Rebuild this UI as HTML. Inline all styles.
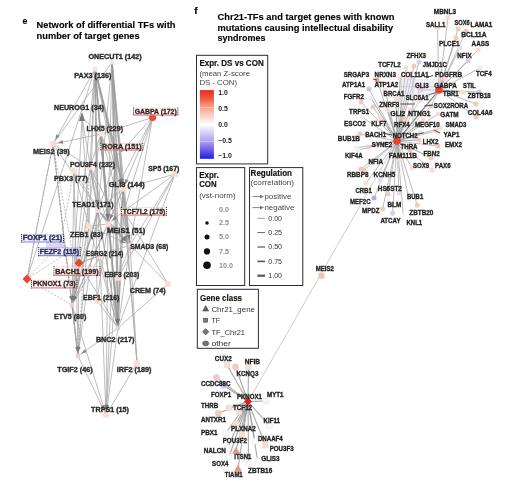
<!DOCTYPE html>
<html><head><meta charset="utf-8"><style>
html,body{margin:0;padding:0;background:#fff;width:522px;height:498px;overflow:hidden}
svg{display:block;font-family:"Liberation Sans",sans-serif;filter:blur(0.5px)}
</style></head><body>
<svg width="522" height="498" viewBox="0 0 522 498">
<rect width="522" height="498" fill="#fff"/>
<line x1="112" y1="62" x2="123" y2="189" stroke="#a8a8a8" stroke-width="0.9" opacity="0.85"/>
<line x1="112" y1="62" x2="124" y2="211" stroke="#a8a8a8" stroke-width="0.9" opacity="0.85"/>
<line x1="112" y1="62" x2="130" y2="245" stroke="#a8a8a8" stroke-width="0.9" opacity="0.85"/>
<line x1="112" y1="62" x2="118" y2="328" stroke="#a8a8a8" stroke-width="0.9" opacity="0.85"/>
<line x1="112" y1="62" x2="108" y2="224" stroke="#a8a8a8" stroke-width="0.9" opacity="0.85"/>
<line x1="112" y1="62" x2="53" y2="144" stroke="#a8a8a8" stroke-width="0.9" opacity="0.85"/>
<line x1="112" y1="62" x2="98" y2="210" stroke="#a8a8a8" stroke-width="0.9" opacity="0.85"/>
<line x1="112" y1="62" x2="118" y2="278" stroke="#a8a8a8" stroke-width="0.9" opacity="0.85"/>
<line x1="95" y1="69" x2="53" y2="144" stroke="#a8a8a8" stroke-width="0.9" opacity="0.85"/>
<line x1="95" y1="69" x2="98" y2="210" stroke="#a8a8a8" stroke-width="0.9" opacity="0.85"/>
<line x1="95" y1="69" x2="123" y2="189" stroke="#a8a8a8" stroke-width="0.9" opacity="0.85"/>
<line x1="95" y1="69" x2="108" y2="224" stroke="#a8a8a8" stroke-width="0.9" opacity="0.85"/>
<line x1="95" y1="69" x2="130" y2="245" stroke="#a8a8a8" stroke-width="0.9" opacity="0.85"/>
<line x1="95" y1="69" x2="118" y2="328" stroke="#a8a8a8" stroke-width="0.9" opacity="0.85"/>
<line x1="95" y1="69" x2="72" y2="305" stroke="#a8a8a8" stroke-width="0.9" opacity="0.85"/>
<line x1="95" y1="69" x2="89" y2="226" stroke="#a8a8a8" stroke-width="0.9" opacity="0.85"/>
<line x1="95" y1="69" x2="90" y2="167" stroke="#a8a8a8" stroke-width="0.9" opacity="0.85"/>
<line x1="95" y1="69" x2="97" y2="301" stroke="#a8a8a8" stroke-width="0.9" opacity="0.85"/>
<line x1="95" y1="69" x2="27" y2="279" stroke="#a8a8a8" stroke-width="0.9" opacity="0.85"/>
<line x1="95" y1="69" x2="117" y2="156" stroke="#a8a8a8" stroke-width="0.9" opacity="0.85"/>
<line x1="82" y1="118" x2="72" y2="305" stroke="#a8a8a8" stroke-width="0.9" opacity="0.85"/>
<line x1="82" y1="118" x2="98" y2="210" stroke="#a8a8a8" stroke-width="0.9" opacity="0.85"/>
<line x1="82" y1="118" x2="101" y2="134" stroke="#a8a8a8" stroke-width="0.9" opacity="0.85"/>
<line x1="82" y1="118" x2="89" y2="226" stroke="#a8a8a8" stroke-width="0.9" opacity="0.85"/>
<line x1="101" y1="134" x2="53" y2="144" stroke="#a8a8a8" stroke-width="0.9" opacity="0.85"/>
<line x1="101" y1="134" x2="123" y2="189" stroke="#a8a8a8" stroke-width="0.9" opacity="0.85"/>
<line x1="101" y1="134" x2="130" y2="245" stroke="#a8a8a8" stroke-width="0.9" opacity="0.85"/>
<line x1="101" y1="134" x2="118" y2="328" stroke="#a8a8a8" stroke-width="0.9" opacity="0.85"/>
<line x1="101" y1="134" x2="90" y2="167" stroke="#a8a8a8" stroke-width="0.9" opacity="0.85"/>
<line x1="101" y1="134" x2="108" y2="224" stroke="#a8a8a8" stroke-width="0.9" opacity="0.85"/>
<line x1="101" y1="134" x2="72" y2="305" stroke="#a8a8a8" stroke-width="0.9" opacity="0.85"/>
<line x1="152.6" y1="117.5" x2="117" y2="156" stroke="#a8a8a8" stroke-width="0.9" opacity="0.85"/>
<line x1="152.6" y1="117.5" x2="123" y2="189" stroke="#a8a8a8" stroke-width="0.9" opacity="0.85"/>
<line x1="152.6" y1="117.5" x2="124" y2="211" stroke="#a8a8a8" stroke-width="0.9" opacity="0.85"/>
<line x1="152.6" y1="117.5" x2="130" y2="245" stroke="#a8a8a8" stroke-width="0.9" opacity="0.85"/>
<line x1="152.6" y1="117.5" x2="79" y2="263" stroke="#a8a8a8" stroke-width="0.9" opacity="0.85"/>
<line x1="152.6" y1="117.5" x2="101" y2="134" stroke="#a8a8a8" stroke-width="0.9" opacity="0.85"/>
<line x1="117" y1="156" x2="123" y2="189" stroke="#a8a8a8" stroke-width="0.9" opacity="0.85"/>
<line x1="117" y1="156" x2="106" y2="415" stroke="#a8a8a8" stroke-width="0.9" opacity="0.85"/>
<line x1="112" y1="62" x2="117" y2="156" stroke="#a8a8a8" stroke-width="0.9" opacity="0.85"/>
<line x1="117" y1="156" x2="108" y2="224" stroke="#a8a8a8" stroke-width="0.9" opacity="0.85"/>
<line x1="117" y1="156" x2="118" y2="328" stroke="#a8a8a8" stroke-width="0.9" opacity="0.85"/>
<line x1="117" y1="156" x2="130" y2="245" stroke="#a8a8a8" stroke-width="0.9" opacity="0.85"/>
<line x1="117" y1="156" x2="98" y2="210" stroke="#a8a8a8" stroke-width="0.9" opacity="0.85"/>
<line x1="53" y1="144" x2="27" y2="279" stroke="#a8a8a8" stroke-width="0.9" opacity="0.85"/>
<line x1="53" y1="144" x2="72" y2="305" stroke="#a8a8a8" stroke-width="0.9" opacity="0.85"/>
<line x1="53" y1="144" x2="98" y2="210" stroke="#a8a8a8" stroke-width="0.9" opacity="0.85"/>
<line x1="53" y1="144" x2="90" y2="167" stroke="#a8a8a8" stroke-width="0.9" opacity="0.85"/>
<line x1="90" y1="167" x2="118" y2="328" stroke="#a8a8a8" stroke-width="0.9" opacity="0.85"/>
<line x1="90" y1="167" x2="130" y2="245" stroke="#a8a8a8" stroke-width="0.9" opacity="0.85"/>
<line x1="90" y1="167" x2="108" y2="224" stroke="#a8a8a8" stroke-width="0.9" opacity="0.85"/>
<line x1="90" y1="167" x2="98" y2="210" stroke="#a8a8a8" stroke-width="0.9" opacity="0.85"/>
<line x1="90" y1="167" x2="72" y2="305" stroke="#a8a8a8" stroke-width="0.9" opacity="0.85"/>
<line x1="74" y1="171" x2="72" y2="305" stroke="#a8a8a8" stroke-width="0.9" opacity="0.85"/>
<line x1="74" y1="171" x2="78" y2="356" stroke="#a8a8a8" stroke-width="0.9" opacity="0.85"/>
<line x1="74" y1="171" x2="108" y2="224" stroke="#a8a8a8" stroke-width="0.9" opacity="0.85"/>
<line x1="74" y1="171" x2="89" y2="226" stroke="#a8a8a8" stroke-width="0.9" opacity="0.85"/>
<line x1="175" y1="174" x2="123" y2="189" stroke="#a8a8a8" stroke-width="0.9" opacity="0.85"/>
<line x1="175" y1="174" x2="124" y2="211" stroke="#a8a8a8" stroke-width="0.9" opacity="0.85"/>
<line x1="175" y1="174" x2="130" y2="245" stroke="#a8a8a8" stroke-width="0.9" opacity="0.85"/>
<line x1="175" y1="174" x2="118" y2="278" stroke="#a8a8a8" stroke-width="0.9" opacity="0.85"/>
<line x1="175" y1="174" x2="118" y2="328" stroke="#a8a8a8" stroke-width="0.9" opacity="0.85"/>
<line x1="123" y1="189" x2="106" y2="415" stroke="#a8a8a8" stroke-width="0.9" opacity="0.85"/>
<line x1="123" y1="189" x2="130" y2="245" stroke="#a8a8a8" stroke-width="0.9" opacity="0.85"/>
<line x1="123" y1="189" x2="118" y2="328" stroke="#a8a8a8" stroke-width="0.9" opacity="0.85"/>
<line x1="123" y1="189" x2="72" y2="305" stroke="#a8a8a8" stroke-width="0.9" opacity="0.85"/>
<line x1="123" y1="189" x2="108" y2="224" stroke="#a8a8a8" stroke-width="0.9" opacity="0.85"/>
<line x1="123" y1="189" x2="98" y2="210" stroke="#a8a8a8" stroke-width="0.9" opacity="0.85"/>
<line x1="123" y1="189" x2="137" y2="363" stroke="#a8a8a8" stroke-width="0.9" opacity="0.85"/>
<line x1="98" y1="210" x2="106" y2="415" stroke="#a8a8a8" stroke-width="0.9" opacity="0.85"/>
<line x1="98" y1="210" x2="118" y2="328" stroke="#a8a8a8" stroke-width="0.9" opacity="0.85"/>
<line x1="98" y1="210" x2="130" y2="245" stroke="#a8a8a8" stroke-width="0.9" opacity="0.85"/>
<line x1="98" y1="210" x2="72" y2="305" stroke="#a8a8a8" stroke-width="0.9" opacity="0.85"/>
<line x1="98" y1="210" x2="78" y2="356" stroke="#a8a8a8" stroke-width="0.9" opacity="0.85"/>
<line x1="98" y1="210" x2="108" y2="224" stroke="#a8a8a8" stroke-width="0.9" opacity="0.85"/>
<line x1="124" y1="211" x2="118" y2="328" stroke="#a8a8a8" stroke-width="0.9" opacity="0.85"/>
<line x1="124" y1="211" x2="137" y2="363" stroke="#a8a8a8" stroke-width="0.9" opacity="0.85"/>
<line x1="124" y1="211" x2="130" y2="245" stroke="#a8a8a8" stroke-width="0.9" opacity="0.85"/>
<line x1="124" y1="211" x2="108" y2="224" stroke="#a8a8a8" stroke-width="0.9" opacity="0.85"/>
<line x1="124" y1="211" x2="168" y2="284" stroke="#a8a8a8" stroke-width="0.9" opacity="0.85"/>
<line x1="89" y1="226" x2="78" y2="356" stroke="#a8a8a8" stroke-width="0.9" opacity="0.85"/>
<line x1="89" y1="226" x2="130" y2="245" stroke="#a8a8a8" stroke-width="0.9" opacity="0.85"/>
<line x1="89" y1="226" x2="72" y2="305" stroke="#a8a8a8" stroke-width="0.9" opacity="0.85"/>
<line x1="89" y1="226" x2="118" y2="328" stroke="#a8a8a8" stroke-width="0.9" opacity="0.85"/>
<line x1="89" y1="226" x2="108" y2="224" stroke="#a8a8a8" stroke-width="0.9" opacity="0.85"/>
<line x1="108" y1="224" x2="130" y2="245" stroke="#a8a8a8" stroke-width="0.9" opacity="0.85"/>
<line x1="108" y1="224" x2="118" y2="328" stroke="#a8a8a8" stroke-width="0.9" opacity="0.85"/>
<line x1="108" y1="224" x2="106" y2="415" stroke="#a8a8a8" stroke-width="0.9" opacity="0.85"/>
<line x1="108" y1="224" x2="97" y2="301" stroke="#a8a8a8" stroke-width="0.9" opacity="0.85"/>
<line x1="108" y1="224" x2="72" y2="305" stroke="#a8a8a8" stroke-width="0.9" opacity="0.85"/>
<line x1="130" y1="245" x2="168" y2="284" stroke="#a8a8a8" stroke-width="0.9" opacity="0.85"/>
<line x1="130" y1="245" x2="137" y2="363" stroke="#a8a8a8" stroke-width="0.9" opacity="0.85"/>
<line x1="130" y1="245" x2="118" y2="328" stroke="#a8a8a8" stroke-width="0.9" opacity="0.85"/>
<line x1="130" y1="245" x2="118" y2="278" stroke="#a8a8a8" stroke-width="0.9" opacity="0.85"/>
<line x1="79" y1="263" x2="72" y2="305" stroke="#a8a8a8" stroke-width="0.9" opacity="0.85"/>
<line x1="79" y1="263" x2="118" y2="328" stroke="#a8a8a8" stroke-width="0.9" opacity="0.85"/>
<line x1="79" y1="263" x2="130" y2="245" stroke="#a8a8a8" stroke-width="0.9" opacity="0.85"/>
<line x1="79" y1="263" x2="78" y2="356" stroke="#a8a8a8" stroke-width="0.9" opacity="0.85"/>
<line x1="79" y1="263" x2="100" y2="256" stroke="#a8a8a8" stroke-width="0.9" opacity="0.85"/>
<line x1="97" y1="301" x2="118" y2="328" stroke="#a8a8a8" stroke-width="0.9" opacity="0.85"/>
<line x1="168" y1="284" x2="118" y2="328" stroke="#a8a8a8" stroke-width="0.9" opacity="0.85"/>
<line x1="72" y1="305" x2="78" y2="356" stroke="#a8a8a8" stroke-width="0.9" opacity="0.85"/>
<line x1="72" y1="305" x2="106" y2="415" stroke="#a8a8a8" stroke-width="0.9" opacity="0.85"/>
<line x1="118" y1="328" x2="78" y2="356" stroke="#a8a8a8" stroke-width="0.9" opacity="0.85"/>
<line x1="118" y1="328" x2="106" y2="415" stroke="#a8a8a8" stroke-width="0.9" opacity="0.85"/>
<line x1="137" y1="363" x2="106" y2="415" stroke="#a8a8a8" stroke-width="0.9" opacity="0.85"/>
<line x1="78" y1="356" x2="106" y2="415" stroke="#a8a8a8" stroke-width="0.9" opacity="0.85"/>
<line x1="118" y1="278" x2="118" y2="328" stroke="#a8a8a8" stroke-width="0.9" opacity="0.85"/>
<line x1="100" y1="256" x2="118" y2="328" stroke="#a8a8a8" stroke-width="0.9" opacity="0.85"/>
<line x1="100" y1="256" x2="72" y2="305" stroke="#a8a8a8" stroke-width="0.9" opacity="0.85"/>
<line x1="60" y1="244" x2="79" y2="263" stroke="#a8a8a8" stroke-width="0.9" opacity="0.85"/>
<line x1="72" y1="250" x2="79" y2="263" stroke="#a8a8a8" stroke-width="0.9" opacity="0.85"/>
<line x1="60" y1="244" x2="72" y2="250" stroke="#a8a8a8" stroke-width="0.9" opacity="0.85"/>
<line x1="27" y1="279" x2="60" y2="244" stroke="#999" stroke-width="0.8" opacity="0.8" stroke-dasharray="2,1.5"/>
<line x1="27" y1="279" x2="72" y2="250" stroke="#999" stroke-width="0.8" opacity="0.8" stroke-dasharray="2,1.5"/>
<line x1="27" y1="279" x2="72" y2="305" stroke="#999" stroke-width="0.8" opacity="0.8" stroke-dasharray="2,1.5"/>
<line x1="53" y1="144" x2="78" y2="356" stroke="#999" stroke-width="0.8" opacity="0.8" stroke-dasharray="2,1.5"/>
<line x1="53" y1="144" x2="72" y2="250" stroke="#999" stroke-width="0.8" opacity="0.8" stroke-dasharray="2,1.5"/>
<line x1="27" y1="279" x2="53" y2="144" stroke="#999" stroke-width="0.8" opacity="0.8" stroke-dasharray="2,1.5"/>
<line x1="74" y1="171" x2="60" y2="244" stroke="#999" stroke-width="0.8" opacity="0.8" stroke-dasharray="2,1.5"/>
<line x1="53" y1="144" x2="72" y2="305" stroke="#999" stroke-width="0.8" opacity="0.8" stroke-dasharray="2,1.5"/>
<line x1="90" y1="167" x2="78" y2="356" stroke="#999" stroke-width="0.8" opacity="0.8" stroke-dasharray="2,1.5"/>
<line x1="112" y1="62" x2="123" y2="189" stroke="#999" stroke-width="1.6" opacity="0.6"/>
<line x1="95" y1="69" x2="123" y2="189" stroke="#999" stroke-width="1.6" opacity="0.6"/>
<line x1="95" y1="69" x2="117" y2="156" stroke="#999" stroke-width="1.6" opacity="0.6"/>
<line x1="112" y1="62" x2="117" y2="156" stroke="#999" stroke-width="1.6" opacity="0.6"/>
<line x1="95" y1="69" x2="98" y2="210" stroke="#999" stroke-width="1.6" opacity="0.6"/>
<line x1="117" y1="156" x2="123" y2="189" stroke="#999" stroke-width="1.6" opacity="0.6"/>
<line x1="123" y1="189" x2="130" y2="245" stroke="#999" stroke-width="1.6" opacity="0.6"/>
<line x1="95" y1="69" x2="118" y2="328" stroke="#999" stroke-width="1.6" opacity="0.6"/>
<line x1="72" y1="305" x2="78" y2="356" stroke="#999" stroke-width="1.6" opacity="0.6"/>
<line x1="98" y1="210" x2="130" y2="245" stroke="#999" stroke-width="1.6" opacity="0.6"/>
<line x1="112" y1="62" x2="118" y2="328" stroke="#999" stroke-width="1.6" opacity="0.6"/>
<line x1="108" y1="224" x2="130" y2="245" stroke="#999" stroke-width="1.6" opacity="0.6"/>
<line x1="123" y1="189" x2="118" y2="328" stroke="#999" stroke-width="1.6" opacity="0.6"/>
<line x1="95" y1="69" x2="108" y2="224" stroke="#999" stroke-width="1.6" opacity="0.6"/>
<line x1="101" y1="134" x2="118" y2="328" stroke="#999" stroke-width="1.6" opacity="0.6"/>
<line x1="98" y1="210" x2="72" y2="305" stroke="#999" stroke-width="1.6" opacity="0.6"/>
<line x1="117" y1="156" x2="108" y2="224" stroke="#999" stroke-width="1.6" opacity="0.6"/>
<line x1="101" y1="134" x2="108" y2="224" stroke="#999" stroke-width="1.6" opacity="0.6"/>
<polygon points="122.6,184.0 124.0,178.8 120.2,179.1" fill="#777" opacity="0.85"/>
<polygon points="121.9,184.1 122.6,178.7 118.8,179.6" fill="#777" opacity="0.85"/>
<polygon points="122.1,184.1 123.1,178.7 119.3,179.4" fill="#777" opacity="0.85"/>
<polygon points="124.9,184.4 128.6,180.4 125.1,178.9" fill="#777" opacity="0.85"/>
<polygon points="121.1,184.4 121.0,178.9 117.5,180.3" fill="#777" opacity="0.85"/>
<polygon points="129.4,240.0 130.6,234.7 126.8,235.2" fill="#777" opacity="0.85"/>
<polygon points="126.4,241.5 124.0,236.6 121.4,239.4" fill="#777" opacity="0.85"/>
<polygon points="126.6,241.3 124.6,236.2 121.8,238.8" fill="#777" opacity="0.85"/>
<polygon points="125.5,242.9 121.6,239.0 120.0,242.5" fill="#777" opacity="0.85"/>
<polygon points="127.7,240.6 127.1,235.1 123.7,236.9" fill="#777" opacity="0.85"/>
<polygon points="107.6,219.0 109.1,213.8 105.2,214.1" fill="#777" opacity="0.85"/>
<polygon points="108.1,219.0 110.2,213.9 106.3,213.8" fill="#777" opacity="0.85"/>
<polygon points="110.0,219.4 113.8,215.5 110.2,213.9" fill="#777" opacity="0.85"/>
<polygon points="111.9,220.8 117.1,219.1 114.6,216.1" fill="#777" opacity="0.85"/>
<polygon points="72.4,301.0 74.8,296.1 71.0,295.7" fill="#777" opacity="0.85"/>
<polygon points="71.5,301.0 72.8,295.7 69.0,296.2" fill="#777" opacity="0.85"/>
<polygon points="73.1,301.1 76.3,296.7 72.6,295.7" fill="#777" opacity="0.85"/>
<polygon points="73.6,301.3 77.4,297.4 73.9,295.9" fill="#777" opacity="0.85"/>
<polygon points="72.8,301.1 75.8,296.5 72.0,295.7" fill="#777" opacity="0.85"/>
<polygon points="117.6,324.0 119.1,318.7 115.3,319.1" fill="#777" opacity="0.85"/>
<polygon points="117.9,324.0 119.7,318.8 115.9,318.9" fill="#777" opacity="0.85"/>
<polygon points="118.1,324.0 120.2,319.0 116.4,318.8" fill="#777" opacity="0.85"/>
<polygon points="117.3,324.1 118.4,318.7 114.6,319.3" fill="#777" opacity="0.85"/>
<polygon points="118.0,324.0 119.9,318.9 116.0,318.9" fill="#777" opacity="0.85"/>
<polygon points="77.5,352.0 78.8,346.7 75.0,347.2" fill="#777" opacity="0.85"/>
<polygon points="77.9,352.0 79.7,346.8 75.9,346.9" fill="#777" opacity="0.85"/>
<polygon points="78.3,352.0 80.7,347.1 76.9,346.8" fill="#777" opacity="0.85"/>
<polygon points="81.3,353.7 86.6,352.3 84.4,349.2" fill="#777" opacity="0.85"/>
<polygon points="104.5,410.2 104.8,404.8 101.2,405.9" fill="#777" opacity="0.85"/>
<polygon points="106.4,410.0 108.7,405.1 104.8,404.8" fill="#777" opacity="0.85"/>
<polygon points="106.7,410.0 109.3,405.2 105.5,404.7" fill="#777" opacity="0.85"/>
<polygon points="106.2,410.0 108.3,405.0 104.5,404.8" fill="#777" opacity="0.85"/>
<polygon points="57.9,143.0 63.3,143.8 62.5,140.1" fill="#777" opacity="0.85"/>
<polygon points="55.4,139.6 59.6,136.1 56.3,134.2" fill="#777" opacity="0.85"/>
<polygon points="120.4,152.3 125.3,149.9 122.5,147.3" fill="#777" opacity="0.85"/>
<polygon points="115.8,151.2 116.4,145.7 112.7,146.7" fill="#777" opacity="0.85"/>
<polygon points="97.9,205.0 99.7,199.8 95.9,199.9" fill="#777" opacity="0.85"/>
<polygon points="97.1,205.1 98.2,199.7 94.4,200.4" fill="#777" opacity="0.85"/>
<polygon points="82,112 85,121 79,121" fill="#777"/>
<rect x="50.25" y="141.25" width="5.5" height="5.5" fill="#f8ddd5" stroke="none" stroke-width="0.5"/>
<rect x="87.25" y="164.25" width="5.5" height="5.5" fill="#f8ddd5" stroke="none" stroke-width="0.5"/>
<rect x="71.25" y="168.25" width="5.5" height="5.5" fill="#f8ddd5" stroke="none" stroke-width="0.5"/>
<rect x="120.25" y="186.25" width="5.5" height="5.5" fill="#f8ddd5" stroke="none" stroke-width="0.5"/>
<rect x="95.25" y="207.25" width="5.5" height="5.5" fill="#f8ddd5" stroke="none" stroke-width="0.5"/>
<rect x="121.25" y="208.25" width="5.5" height="5.5" fill="#f8ddd5" stroke="none" stroke-width="0.5"/>
<rect x="86.25" y="223.25" width="5.5" height="5.5" fill="#f8ddd5" stroke="none" stroke-width="0.5"/>
<rect x="105.25" y="221.25" width="5.5" height="5.5" fill="#f8ddd5" stroke="none" stroke-width="0.5"/>
<rect x="115.25" y="275.25" width="5.5" height="5.5" fill="#f8ddd5" stroke="none" stroke-width="0.5"/>
<rect x="94.25" y="298.25" width="5.5" height="5.5" fill="#f8ddd5" stroke="none" stroke-width="0.5"/>
<rect x="165.25" y="281.25" width="5.5" height="5.5" fill="#f8ddd5" stroke="none" stroke-width="0.5"/>
<rect x="134.25" y="360.25" width="5.5" height="5.5" fill="#f8ddd5" stroke="none" stroke-width="0.5"/>
<rect x="103.25" y="412.25" width="5.5" height="5.5" fill="#f8ddd5" stroke="none" stroke-width="0.5"/>
<rect x="172.25" y="171.25" width="5.5" height="5.5" fill="#f8ddd5" stroke="none" stroke-width="0.5"/>
<rect x="97.25" y="253.25" width="5.5" height="5.5" fill="#f8ddd5" stroke="none" stroke-width="0.5"/>
<rect x="109.5" y="59.5" width="5" height="5" fill="#f3e6e3" stroke="none" stroke-width="0.5"/>
<rect x="92.5" y="66.5" width="5" height="5" fill="#f3e6e3" stroke="none" stroke-width="0.5"/>
<rect x="98.5" y="131.5" width="5" height="5" fill="#f3e6e3" stroke="none" stroke-width="0.5"/>
<rect x="69.75" y="302.75" width="4.5" height="4.5" fill="#e8d0cc" stroke="none" stroke-width="0.5"/>
<rect x="115.75" y="325.75" width="4.5" height="4.5" fill="#e8d0cc" stroke="none" stroke-width="0.5"/>
<rect x="75.75" y="353.75" width="4.5" height="4.5" fill="#e8d0cc" stroke="none" stroke-width="0.5"/>
<rect x="127.75" y="242.75" width="4.5" height="4.5" fill="#e8d0cc" stroke="none" stroke-width="0.5"/>
<circle cx="152.6" cy="117.5" r="3.6" fill="#ea4a36" stroke="none" stroke-width="0.5"/>
<polygon points="79,258.5 83.5,263 79,267.5 74.5,263" fill="#e8472f" stroke="none" stroke-width="0.5"/>
<polygon points="27,274.5 31.5,279 27,283.5 22.5,279" fill="#e8472f" stroke="none" stroke-width="0.5"/>
<text x="88.4" y="58.7" font-size="7.2" font-weight="bold" fill="#2a2a2a" stroke="#2a2a2a" stroke-width="0.35" textLength="53.3" lengthAdjust="spacingAndGlyphs">ONECUT1 (142)</text>
<text x="74.3" y="78.3" font-size="7.2" font-weight="bold" fill="#2a2a2a" stroke="#2a2a2a" stroke-width="0.35" textLength="37.1" lengthAdjust="spacingAndGlyphs">PAX3 (136)</text>
<text x="54" y="109.7" font-size="7.2" font-weight="bold" fill="#2a2a2a" stroke="#2a2a2a" stroke-width="0.35" textLength="50.0" lengthAdjust="spacingAndGlyphs">NEUROG1 (34)</text>
<text x="86.6" y="131.3" font-size="7.2" font-weight="bold" fill="#2a2a2a" stroke="#2a2a2a" stroke-width="0.35" textLength="36.4" lengthAdjust="spacingAndGlyphs">LHX5 (229)</text>
<text x="33" y="154.3" font-size="7.2" font-weight="bold" fill="#2a2a2a" stroke="#2a2a2a" stroke-width="0.35" textLength="36.6" lengthAdjust="spacingAndGlyphs">MEIS2 (39)</text>
<text x="70" y="166.6" font-size="7.2" font-weight="bold" fill="#2a2a2a" stroke="#2a2a2a" stroke-width="0.35" textLength="45.0" lengthAdjust="spacingAndGlyphs">POU3F4 (232)</text>
<text x="148.2" y="170.5" font-size="7.2" font-weight="bold" fill="#2a2a2a" stroke="#2a2a2a" stroke-width="0.35" textLength="31.1" lengthAdjust="spacingAndGlyphs">SP5 (167)</text>
<text x="54" y="181" font-size="7.2" font-weight="bold" fill="#2a2a2a" stroke="#2a2a2a" stroke-width="0.35" textLength="34.0" lengthAdjust="spacingAndGlyphs">PBX3 (77)</text>
<text x="108.8" y="186.6" font-size="7.2" font-weight="bold" fill="#2a2a2a" stroke="#2a2a2a" stroke-width="0.35" textLength="36.0" lengthAdjust="spacingAndGlyphs">GLI3 (144)</text>
<text x="72.2" y="206.5" font-size="7.2" font-weight="bold" fill="#2a2a2a" stroke="#2a2a2a" stroke-width="0.35" textLength="41.3" lengthAdjust="spacingAndGlyphs">TEAD1 (171)</text>
<text x="107" y="232.8" font-size="7.2" font-weight="bold" fill="#2a2a2a" stroke="#2a2a2a" stroke-width="0.35" textLength="38.2" lengthAdjust="spacingAndGlyphs">MEIS1 (51)</text>
<text x="70" y="237.1" font-size="7.2" font-weight="bold" fill="#2a2a2a" stroke="#2a2a2a" stroke-width="0.35" textLength="33.2" lengthAdjust="spacingAndGlyphs">ZEB1 (83)</text>
<text x="130.2" y="249.3" font-size="7.2" font-weight="bold" fill="#2a2a2a" stroke="#2a2a2a" stroke-width="0.35" textLength="38.1" lengthAdjust="spacingAndGlyphs">SMAD3 (68)</text>
<text x="86.1" y="256.2" font-size="7.2" font-weight="bold" fill="#2a2a2a" stroke="#2a2a2a" stroke-width="0.35" textLength="37.2" lengthAdjust="spacingAndGlyphs">ESRG2 (214)</text>
<text x="104.5" y="276.6" font-size="7.2" font-weight="bold" fill="#2a2a2a" stroke="#2a2a2a" stroke-width="0.35" textLength="34.7" lengthAdjust="spacingAndGlyphs">EBF3 (203)</text>
<text x="129.7" y="292.6" font-size="7.2" font-weight="bold" fill="#2a2a2a" stroke="#2a2a2a" stroke-width="0.35" textLength="36.0" lengthAdjust="spacingAndGlyphs">CREM (74)</text>
<text x="83" y="299.9" font-size="7.2" font-weight="bold" fill="#2a2a2a" stroke="#2a2a2a" stroke-width="0.35" textLength="36.4" lengthAdjust="spacingAndGlyphs">EBF1 (216)</text>
<text x="54.1" y="318.6" font-size="7.2" font-weight="bold" fill="#2a2a2a" stroke="#2a2a2a" stroke-width="0.35" textLength="32.2" lengthAdjust="spacingAndGlyphs">ETV5 (80)</text>
<text x="95.9" y="341.7" font-size="7.2" font-weight="bold" fill="#2a2a2a" stroke="#2a2a2a" stroke-width="0.35" textLength="38.6" lengthAdjust="spacingAndGlyphs">BNC2 (217)</text>
<text x="57.3" y="371.6" font-size="7.2" font-weight="bold" fill="#2a2a2a" stroke="#2a2a2a" stroke-width="0.35" textLength="35.4" lengthAdjust="spacingAndGlyphs">TGIF2 (46)</text>
<text x="116.8" y="371.6" font-size="7.2" font-weight="bold" fill="#2a2a2a" stroke="#2a2a2a" stroke-width="0.35" textLength="34.7" lengthAdjust="spacingAndGlyphs">IRF2 (189)</text>
<text x="91.1" y="411.8" font-size="7.2" font-weight="bold" fill="#2a2a2a" stroke="#2a2a2a" stroke-width="0.35" textLength="37.9" lengthAdjust="spacingAndGlyphs">TRPS1 (15)</text>
<rect x="46" y="241.5" width="18" height="7" fill="#cfc8f4" opacity="0.7"/>
<rect x="133.1" y="107.7" width="45.20000000000002" height="8.0" fill="rgba(255,245,245,0.35)" stroke="none" stroke-width="1" rx="0"/>
<path d="M133.1 108.0 H178.3" stroke="#e06060" stroke-width="0.6" opacity="0.35"/>
<path d="M133.1 115.10000000000001 H178.3" stroke="#e06060" stroke-width="1.2" opacity="0.75"/>
<path d="M133.5 107.7 V115.7 M177.9 107.7 V115.7" stroke="#111" stroke-width="0.9" stroke-dasharray="1,1"/>
<text x="134.7" y="113.5" font-size="7.2" font-weight="bold" fill="#3a2626" stroke="#3a2626" stroke-width="0.35" textLength="42.0" lengthAdjust="spacingAndGlyphs">GABPA (172)</text>
<rect x="100.4" y="143.2" width="42.79999999999998" height="7.600000000000023" fill="rgba(255,245,245,0.35)" stroke="none" stroke-width="1" rx="0"/>
<path d="M100.4 143.5 H143.2" stroke="#e06060" stroke-width="0.6" opacity="0.35"/>
<path d="M100.4 150.20000000000002 H143.2" stroke="#e06060" stroke-width="1.2" opacity="0.75"/>
<path d="M100.80000000000001 143.2 V150.8 M142.79999999999998 143.2 V150.8" stroke="#111" stroke-width="0.9" stroke-dasharray="1,1"/>
<text x="102.0" y="148.60000000000002" font-size="7.2" font-weight="bold" fill="#3a2626" stroke="#3a2626" stroke-width="0.35" textLength="39.6" lengthAdjust="spacingAndGlyphs">RORA (151)</text>
<rect x="121.1" y="207.1" width="45.80000000000001" height="8.599999999999994" fill="rgba(255,245,245,0.35)" stroke="none" stroke-width="1" rx="0"/>
<path d="M121.1 207.4 H166.9" stroke="#e06060" stroke-width="0.6" opacity="0.35"/>
<path d="M121.1 215.1 H166.9" stroke="#e06060" stroke-width="1.2" opacity="0.75"/>
<path d="M121.5 207.1 V215.7 M166.5 207.1 V215.7" stroke="#111" stroke-width="0.9" stroke-dasharray="1,1"/>
<text x="122.69999999999999" y="213.5" font-size="7.2" font-weight="bold" fill="#3a2626" stroke="#3a2626" stroke-width="0.35" textLength="42.6" lengthAdjust="spacingAndGlyphs">TCF7L2 (175)</text>
<rect x="21.1" y="234.1" width="42.8" height="8.5" fill="rgba(215,215,250,0.45)" stroke="none" stroke-width="1" rx="0"/>
<path d="M21.1 234.4 H63.9" stroke="#6a6ad8" stroke-width="0.6" opacity="0.35"/>
<path d="M21.1 242.0 H63.9" stroke="#6a6ad8" stroke-width="1.2" opacity="0.75"/>
<path d="M21.5 234.1 V242.6 M63.5 234.1 V242.6" stroke="#111" stroke-width="0.9" stroke-dasharray="1,1"/>
<text x="22.700000000000003" y="240.4" font-size="7.2" font-weight="bold" fill="#2a2a55" stroke="#2a2a55" stroke-width="0.35" textLength="39.6" lengthAdjust="spacingAndGlyphs">FOXP1 (21)</text>
<rect x="38.2" y="247.2" width="42.5" height="9.0" fill="rgba(215,215,250,0.45)" stroke="none" stroke-width="1" rx="0"/>
<path d="M38.2 247.5 H80.7" stroke="#6a6ad8" stroke-width="0.6" opacity="0.35"/>
<path d="M38.2 255.6 H80.7" stroke="#6a6ad8" stroke-width="1.2" opacity="0.75"/>
<path d="M38.6 247.2 V256.2 M80.3 247.2 V256.2" stroke="#111" stroke-width="0.9" stroke-dasharray="1,1"/>
<text x="39.800000000000004" y="254.0" font-size="7.2" font-weight="bold" fill="#2a2a55" stroke="#2a2a55" stroke-width="0.35" textLength="39.3" lengthAdjust="spacingAndGlyphs">FEZF2 (115)</text>
<rect x="53.6" y="266.3" width="46.6" height="9.599999999999966" fill="rgba(255,245,245,0.35)" stroke="none" stroke-width="1" rx="0"/>
<path d="M53.6 266.6 H100.2" stroke="#e06060" stroke-width="0.6" opacity="0.35"/>
<path d="M53.6 275.29999999999995 H100.2" stroke="#e06060" stroke-width="1.2" opacity="0.75"/>
<path d="M54.0 266.3 V275.9 M99.8 266.3 V275.9" stroke="#111" stroke-width="0.9" stroke-dasharray="1,1"/>
<text x="55.2" y="273.7" font-size="7.2" font-weight="bold" fill="#3a2626" stroke="#3a2626" stroke-width="0.35" textLength="43.4" lengthAdjust="spacingAndGlyphs">BACH1 (199)</text>
<rect x="31.1" y="279.9" width="46.199999999999996" height="8.5" fill="rgba(255,245,245,0.35)" stroke="none" stroke-width="1" rx="0"/>
<path d="M31.1 280.2 H77.3" stroke="#e06060" stroke-width="0.6" opacity="0.35"/>
<path d="M31.1 287.79999999999995 H77.3" stroke="#e06060" stroke-width="1.2" opacity="0.75"/>
<path d="M31.5 279.9 V288.4 M76.89999999999999 279.9 V288.4" stroke="#111" stroke-width="0.9" stroke-dasharray="1,1"/>
<text x="32.7" y="286.2" font-size="7.2" font-weight="bold" fill="#3a2626" stroke="#3a2626" stroke-width="0.35" textLength="43.0" lengthAdjust="spacingAndGlyphs">PKNOX1 (73)</text>
<text x="22.6" y="23.9" font-size="9.6" font-weight="bold" fill="#000" stroke="#000" stroke-width="0.1" textLength="5.0" lengthAdjust="spacingAndGlyphs">e</text>
<text x="36.6" y="28.1" font-size="9.4" font-weight="bold" fill="#000" stroke="#000" stroke-width="0.12" textLength="138.9" lengthAdjust="spacingAndGlyphs">Network of differential TFs with</text>
<text x="36.6" y="38.5" font-size="9.4" font-weight="bold" fill="#000" stroke="#000" stroke-width="0.12" textLength="103.1" lengthAdjust="spacingAndGlyphs">number of target genes</text>
<text x="194.3" y="13.8" font-size="9.4" font-weight="bold" fill="#000" stroke="#000" stroke-width="0.2" textLength="3.3" lengthAdjust="spacingAndGlyphs">f</text>
<text x="217.6" y="20.1" font-size="9.4" font-weight="bold" fill="#000" stroke="#000" stroke-width="0.12" textLength="176.8" lengthAdjust="spacingAndGlyphs">Chr21-TFs and target genes with known</text>
<text x="217.6" y="30.6" font-size="9.4" font-weight="bold" fill="#000" stroke="#000" stroke-width="0.12" textLength="175.5" lengthAdjust="spacingAndGlyphs">mutations causing intellectual disability</text>
<text x="217.6" y="41.2" font-size="9.4" font-weight="bold" fill="#000" stroke="#000" stroke-width="0.12" textLength="47.9" lengthAdjust="spacingAndGlyphs">syndromes</text>
<line x1="439" y1="90" x2="448" y2="17.5" stroke="#a0a0a0" stroke-width="0.85" opacity="0.85"/>
<line x1="439" y1="90" x2="437.5" y2="28" stroke="#a0a0a0" stroke-width="0.85" opacity="0.85"/>
<line x1="439" y1="90" x2="458" y2="29" stroke="#a0a0a0" stroke-width="0.85" opacity="0.85"/>
<line x1="439" y1="90" x2="466" y2="31" stroke="#a0a0a0" stroke-width="0.85" opacity="0.85"/>
<line x1="439" y1="90" x2="456" y2="38" stroke="#a0a0a0" stroke-width="0.85" opacity="0.85"/>
<line x1="439" y1="90" x2="460" y2="48" stroke="#a0a0a0" stroke-width="0.85" opacity="0.85"/>
<line x1="439" y1="90" x2="478" y2="50" stroke="#a0a0a0" stroke-width="0.85" opacity="0.85"/>
<line x1="397" y1="141" x2="414" y2="66" stroke="#a0a0a0" stroke-width="0.85" opacity="0.85"/>
<line x1="439" y1="90" x2="468" y2="61" stroke="#a0a0a0" stroke-width="0.85" opacity="0.85"/>
<line x1="397" y1="141" x2="406" y2="68" stroke="#a0a0a0" stroke-width="0.85" opacity="0.85"/>
<line x1="397" y1="141" x2="419" y2="62" stroke="#a0a0a0" stroke-width="0.85" opacity="0.85"/>
<line x1="397" y1="141" x2="377" y2="80" stroke="#a0a0a0" stroke-width="0.85" opacity="0.85"/>
<line x1="397" y1="141" x2="400" y2="78" stroke="#a0a0a0" stroke-width="0.85" opacity="0.85"/>
<line x1="397" y1="141" x2="408" y2="78" stroke="#a0a0a0" stroke-width="0.85" opacity="0.85"/>
<line x1="439" y1="90" x2="445" y2="79" stroke="#a0a0a0" stroke-width="0.85" opacity="0.85"/>
<line x1="439" y1="90" x2="480" y2="68" stroke="#a0a0a0" stroke-width="0.85" opacity="0.85"/>
<line x1="397" y1="141" x2="369" y2="89" stroke="#a0a0a0" stroke-width="0.85" opacity="0.85"/>
<line x1="397" y1="141" x2="385" y2="90" stroke="#a0a0a0" stroke-width="0.85" opacity="0.85"/>
<line x1="439" y1="90" x2="420" y2="90" stroke="#a0a0a0" stroke-width="0.85" opacity="0.85"/>
<line x1="397" y1="141" x2="420" y2="90" stroke="#a0a0a0" stroke-width="0.7" opacity="0.8"/>
<line x1="439" y1="90" x2="479" y2="92" stroke="#a0a0a0" stroke-width="0.85" opacity="0.85"/>
<line x1="397" y1="141" x2="396" y2="99" stroke="#a0a0a0" stroke-width="0.85" opacity="0.85"/>
<line x1="397" y1="141" x2="396" y2="99" stroke="#a0a0a0" stroke-width="0.7" opacity="0.8"/>
<line x1="439" y1="90" x2="462" y2="92" stroke="#a0a0a0" stroke-width="0.85" opacity="0.85"/>
<line x1="439" y1="90" x2="476" y2="104" stroke="#a0a0a0" stroke-width="0.85" opacity="0.85"/>
<line x1="397" y1="141" x2="361" y2="102" stroke="#a0a0a0" stroke-width="0.85" opacity="0.85"/>
<line x1="439" y1="90" x2="419" y2="101" stroke="#a0a0a0" stroke-width="0.85" opacity="0.85"/>
<line x1="397" y1="141" x2="419" y2="101" stroke="#a0a0a0" stroke-width="0.7" opacity="0.8"/>
<line x1="397" y1="141" x2="371" y2="98" stroke="#a0a0a0" stroke-width="0.85" opacity="0.85"/>
<line x1="397" y1="141" x2="371" y2="98" stroke="#a0a0a0" stroke-width="0.7" opacity="0.8"/>
<line x1="439" y1="90" x2="431" y2="106" stroke="#a0a0a0" stroke-width="0.85" opacity="0.85"/>
<line x1="397" y1="141" x2="431" y2="106" stroke="#a0a0a0" stroke-width="0.7" opacity="0.8"/>
<line x1="397" y1="141" x2="373" y2="107" stroke="#a0a0a0" stroke-width="0.85" opacity="0.85"/>
<line x1="439" y1="90" x2="476" y2="117" stroke="#a0a0a0" stroke-width="0.85" opacity="0.85"/>
<line x1="397" y1="141" x2="388" y2="110" stroke="#a0a0a0" stroke-width="0.85" opacity="0.85"/>
<line x1="397" y1="141" x2="388" y2="110" stroke="#a0a0a0" stroke-width="0.7" opacity="0.8"/>
<line x1="397" y1="141" x2="410" y2="110" stroke="#a0a0a0" stroke-width="0.85" opacity="0.85"/>
<line x1="397" y1="141" x2="410" y2="110" stroke="#a0a0a0" stroke-width="0.7" opacity="0.8"/>
<line x1="397" y1="141" x2="438" y2="114" stroke="#a0a0a0" stroke-width="0.85" opacity="0.85"/>
<line x1="397" y1="141" x2="362" y2="117" stroke="#a0a0a0" stroke-width="0.85" opacity="0.85"/>
<line x1="397" y1="141" x2="380" y2="118" stroke="#a0a0a0" stroke-width="0.85" opacity="0.85"/>
<line x1="397" y1="141" x2="405" y2="119" stroke="#a0a0a0" stroke-width="0.85" opacity="0.85"/>
<line x1="397" y1="141" x2="423" y2="120" stroke="#a0a0a0" stroke-width="0.85" opacity="0.85"/>
<line x1="397" y1="141" x2="423" y2="120" stroke="#a0a0a0" stroke-width="0.7" opacity="0.8"/>
<line x1="397" y1="141" x2="440" y2="128" stroke="#a0a0a0" stroke-width="0.85" opacity="0.85"/>
<line x1="397" y1="141" x2="360" y2="134" stroke="#a0a0a0" stroke-width="0.85" opacity="0.85"/>
<line x1="397" y1="141" x2="420" y2="133" stroke="#a0a0a0" stroke-width="0.85" opacity="0.85"/>
<line x1="397" y1="141" x2="420" y2="133" stroke="#a0a0a0" stroke-width="0.7" opacity="0.8"/>
<line x1="397" y1="141" x2="436" y2="131" stroke="#a0a0a0" stroke-width="0.85" opacity="0.85"/>
<line x1="397" y1="141" x2="356" y2="148" stroke="#a0a0a0" stroke-width="0.85" opacity="0.85"/>
<line x1="397" y1="141" x2="419" y2="140" stroke="#a0a0a0" stroke-width="0.85" opacity="0.85"/>
<line x1="397" y1="141" x2="419" y2="140" stroke="#a0a0a0" stroke-width="0.7" opacity="0.8"/>
<line x1="397" y1="141" x2="368" y2="147" stroke="#a0a0a0" stroke-width="0.85" opacity="0.85"/>
<line x1="397" y1="141" x2="438" y2="146" stroke="#a0a0a0" stroke-width="0.85" opacity="0.85"/>
<line x1="397" y1="141" x2="410" y2="150" stroke="#a0a0a0" stroke-width="0.85" opacity="0.85"/>
<line x1="397" y1="141" x2="431" y2="158" stroke="#a0a0a0" stroke-width="0.85" opacity="0.85"/>
<line x1="397" y1="141" x2="431" y2="158" stroke="#a0a0a0" stroke-width="0.7" opacity="0.8"/>
<line x1="397" y1="141" x2="358" y2="150" stroke="#a0a0a0" stroke-width="0.85" opacity="0.85"/>
<line x1="397" y1="141" x2="400" y2="160" stroke="#a0a0a0" stroke-width="0.85" opacity="0.85"/>
<line x1="397" y1="141" x2="364" y2="170" stroke="#a0a0a0" stroke-width="0.85" opacity="0.85"/>
<line x1="397" y1="141" x2="412" y2="168" stroke="#a0a0a0" stroke-width="0.85" opacity="0.85"/>
<line x1="397" y1="141" x2="432" y2="170" stroke="#a0a0a0" stroke-width="0.85" opacity="0.85"/>
<line x1="397" y1="141" x2="361" y2="169" stroke="#a0a0a0" stroke-width="0.85" opacity="0.85"/>
<line x1="397" y1="141" x2="380" y2="180" stroke="#a0a0a0" stroke-width="0.85" opacity="0.85"/>
<line x1="397" y1="141" x2="388" y2="194" stroke="#a0a0a0" stroke-width="0.85" opacity="0.85"/>
<line x1="397" y1="141" x2="366" y2="183" stroke="#a0a0a0" stroke-width="0.85" opacity="0.85"/>
<line x1="397" y1="141" x2="409" y2="200" stroke="#a0a0a0" stroke-width="0.85" opacity="0.85"/>
<line x1="397" y1="141" x2="374" y2="198" stroke="#a0a0a0" stroke-width="0.85" opacity="0.85"/>
<line x1="397" y1="141" x2="399" y2="193" stroke="#a0a0a0" stroke-width="0.85" opacity="0.85"/>
<line x1="397" y1="141" x2="382.6" y2="209" stroke="#a0a0a0" stroke-width="0.85" opacity="0.85"/>
<line x1="397" y1="141" x2="417.3" y2="205.3" stroke="#a0a0a0" stroke-width="0.85" opacity="0.85"/>
<line x1="397" y1="141" x2="392.6" y2="213.3" stroke="#a0a0a0" stroke-width="0.85" opacity="0.85"/>
<line x1="397" y1="141" x2="403.3" y2="215.3" stroke="#a0a0a0" stroke-width="0.85" opacity="0.85"/>
<line x1="397" y1="141" x2="439" y2="90" stroke="#888" stroke-width="1.2" opacity="1"/>
<line x1="397" y1="141" x2="248" y2="401.5" stroke="#c0c0c0" stroke-width="0.8" opacity="1"/>
<rect x="445.7" y="15.2" width="4.6" height="4.6" fill="#f7ddd6" stroke="none" stroke-width="0.5"/>
<circle cx="437.5" cy="28" r="2.5" fill="#f7ddd6" stroke="none" stroke-width="0.5"/>
<circle cx="458" cy="29" r="2.5" fill="#f3c9bd" stroke="none" stroke-width="0.5"/>
<circle cx="466" cy="31" r="2.5" fill="#f3c9bd" stroke="none" stroke-width="0.5"/>
<circle cx="456" cy="38" r="2.5" fill="#f3c9bd" stroke="none" stroke-width="0.5"/>
<circle cx="460" cy="48" r="2.5" fill="#e8e4f5" stroke="none" stroke-width="0.5"/>
<circle cx="478" cy="50" r="2.5" fill="#f7ddd6" stroke="none" stroke-width="0.5"/>
<circle cx="414" cy="66" r="2.5" fill="#f3c9bd" stroke="none" stroke-width="0.5"/>
<circle cx="468" cy="61" r="2.5" fill="#d8cdf0" stroke="none" stroke-width="0.5"/>
<rect x="403.7" y="65.7" width="4.6" height="4.6" fill="#f7ddd6" stroke="none" stroke-width="0.5"/>
<circle cx="419" cy="62" r="2.5" fill="#d8cdf0" stroke="none" stroke-width="0.5"/>
<circle cx="377" cy="80" r="2.5" fill="#eda58e" stroke="none" stroke-width="0.5"/>
<circle cx="400" cy="78" r="2.5" fill="#f7ddd6" stroke="none" stroke-width="0.5"/>
<circle cx="408" cy="78" r="2.5" fill="#f7ddd6" stroke="none" stroke-width="0.5"/>
<circle cx="445" cy="79" r="2.5" fill="#f7ddd6" stroke="none" stroke-width="0.5"/>
<rect x="477.7" y="65.7" width="4.6" height="4.6" fill="#eeeaf7" stroke="none" stroke-width="0.5"/>
<circle cx="369" cy="89" r="2.5" fill="#c9bdf0" stroke="none" stroke-width="0.5"/>
<circle cx="385" cy="90" r="2.5" fill="#f7ddd6" stroke="none" stroke-width="0.5"/>
<rect x="417.7" y="87.7" width="4.6" height="4.6" fill="#f3c9bd" stroke="none" stroke-width="0.5"/>
<circle cx="479" cy="92" r="2.5" fill="#d0c6f0" stroke="none" stroke-width="0.5"/>
<circle cx="396" cy="99" r="2.5" fill="#f7ddd6" stroke="none" stroke-width="0.5"/>
<circle cx="462" cy="92" r="2.5" fill="#f7ddd6" stroke="none" stroke-width="0.5"/>
<circle cx="476" cy="104" r="2.5" fill="#f3c9bd" stroke="none" stroke-width="0.5"/>
<circle cx="361" cy="102" r="2.5" fill="#f3c9bd" stroke="none" stroke-width="0.5"/>
<circle cx="419" cy="101" r="2.5" fill="#f7ddd6" stroke="none" stroke-width="0.5"/>
<circle cx="371" cy="98" r="2.5" fill="#eeeaf7" stroke="none" stroke-width="0.5"/>
<circle cx="431" cy="106" r="2.5" fill="#f3c9bd" stroke="none" stroke-width="0.5"/>
<circle cx="373" cy="107" r="2.5" fill="#f3c9bd" stroke="none" stroke-width="0.5"/>
<circle cx="476" cy="117" r="2.5" fill="#f3c9bd" stroke="none" stroke-width="0.5"/>
<circle cx="388" cy="110" r="2.5" fill="#f7ddd6" stroke="none" stroke-width="0.5"/>
<circle cx="410" cy="110" r="2.5" fill="#f7ddd6" stroke="none" stroke-width="0.5"/>
<circle cx="438" cy="114" r="2.5" fill="#f7ddd6" stroke="none" stroke-width="0.5"/>
<circle cx="362" cy="117" r="2.5" fill="#f3f0f5" stroke="none" stroke-width="0.5"/>
<rect x="377.7" y="115.7" width="4.6" height="4.6" fill="#f7ddd6" stroke="none" stroke-width="0.5"/>
<rect x="402.7" y="116.7" width="4.6" height="4.6" fill="#f3c9bd" stroke="none" stroke-width="0.5"/>
<circle cx="423" cy="120" r="2.5" fill="#f7ddd6" stroke="none" stroke-width="0.5"/>
<rect x="437.7" y="125.7" width="4.6" height="4.6" fill="#f7ddd6" stroke="none" stroke-width="0.5"/>
<rect x="357.7" y="131.7" width="4.6" height="4.6" fill="#f3c9bd" stroke="none" stroke-width="0.5"/>
<circle cx="420" cy="133" r="2.5" fill="#f7ddd6" stroke="none" stroke-width="0.5"/>
<circle cx="436" cy="131" r="2.5" fill="#f7ddd6" stroke="none" stroke-width="0.5"/>
<circle cx="356" cy="148" r="2.5" fill="#f3f0f5" stroke="none" stroke-width="0.5"/>
<rect x="416.7" y="137.7" width="4.6" height="4.6" fill="#f3c9bd" stroke="none" stroke-width="0.5"/>
<circle cx="368" cy="147" r="2.5" fill="#f3c9bd" stroke="none" stroke-width="0.5"/>
<rect x="435.7" y="143.7" width="4.6" height="4.6" fill="#f3c9bd" stroke="none" stroke-width="0.5"/>
<rect x="407.7" y="147.7" width="4.6" height="4.6" fill="#f3c9bd" stroke="none" stroke-width="0.5"/>
<circle cx="431" cy="158" r="2.5" fill="#f3c9bd" stroke="none" stroke-width="0.5"/>
<circle cx="358" cy="150" r="2.5" fill="#f3f0f5" stroke="none" stroke-width="0.5"/>
<circle cx="400" cy="160" r="2.5" fill="#f7ddd6" stroke="none" stroke-width="0.5"/>
<rect x="361.7" y="167.7" width="4.6" height="4.6" fill="#f3c9bd" stroke="none" stroke-width="0.5"/>
<rect x="409.7" y="165.7" width="4.6" height="4.6" fill="#f7ddd6" stroke="none" stroke-width="0.5"/>
<rect x="429.7" y="167.7" width="4.6" height="4.6" fill="#f7ddd6" stroke="none" stroke-width="0.5"/>
<circle cx="361" cy="169" r="2.5" fill="#f3c9bd" stroke="none" stroke-width="0.5"/>
<circle cx="380" cy="180" r="2.5" fill="#e3dcf5" stroke="none" stroke-width="0.5"/>
<circle cx="388" cy="194" r="2.5" fill="#f3c9bd" stroke="none" stroke-width="0.5"/>
<circle cx="366" cy="183" r="2.5" fill="#f7ddd6" stroke="none" stroke-width="0.5"/>
<circle cx="409" cy="200" r="2.5" fill="#f7f5f7" stroke="none" stroke-width="0.5"/>
<circle cx="374" cy="198" r="2.5" fill="#b9aaf0" stroke="none" stroke-width="0.5"/>
<circle cx="399" cy="193" r="2.5" fill="#e3dcf5" stroke="none" stroke-width="0.5"/>
<circle cx="382.6" cy="209" r="2.5" fill="#f3c9bd" stroke="none" stroke-width="0.5"/>
<circle cx="417.3" cy="205.3" r="2.5" fill="#f3c9bd" stroke="none" stroke-width="0.5"/>
<circle cx="392.6" cy="213.3" r="2.5" fill="#d8cdf0" stroke="none" stroke-width="0.5"/>
<circle cx="403.3" cy="215.3" r="2.5" fill="#f7f5f7" stroke="none" stroke-width="0.5"/>
<line x1="400.3" y1="104" x2="414.7" y2="104" stroke="#333" stroke-width="0.9" opacity="1"/>
<line x1="428.4" y1="94.7" x2="439" y2="92" stroke="#333" stroke-width="0.9" opacity="1"/>
<line x1="424.4" y1="106" x2="433.2" y2="105" stroke="#333" stroke-width="0.9" opacity="1"/>
<line x1="418" y1="134" x2="423.6" y2="132.8" stroke="#333" stroke-width="0.9" opacity="1"/>
<line x1="426" y1="77.9" x2="433.2" y2="75.4" stroke="#333" stroke-width="0.9" opacity="1"/>
<line x1="385" y1="133.5" x2="392" y2="135" stroke="#333" stroke-width="0.9" opacity="1"/>
<line x1="373" y1="79" x2="377" y2="80" stroke="#333" stroke-width="0.9" opacity="1"/>
<line x1="434" y1="130" x2="440" y2="133" stroke="#333" stroke-width="0.9" opacity="1"/>
<line x1="401" y1="78" x2="401" y2="130" stroke="#aaa" stroke-width="0.8" opacity="1"/>
<line x1="413" y1="78" x2="413" y2="130" stroke="#aaa" stroke-width="0.8" opacity="1"/>
<line x1="401" y1="86.7" x2="440" y2="86.7" stroke="#bbb" stroke-width="0.7" opacity="1"/>
<rect x="402" y="79" width="37" height="16" fill="#d8d0f5" opacity="0.35"/>
<circle cx="397" cy="141" r="3.8" fill="#e8432a" stroke="none" stroke-width="0.5"/>
<circle cx="439" cy="90" r="3.8" fill="#e8432a" stroke="none" stroke-width="0.5"/>
<text x="433.8" y="14.4" font-size="6.3" font-weight="bold" fill="#1e1e1e" stroke="#1e1e1e" stroke-width="0.3" textLength="22.2" lengthAdjust="spacingAndGlyphs">MBNL3</text>
<text x="426" y="26.6" font-size="6.3" font-weight="bold" fill="#1e1e1e" stroke="#1e1e1e" stroke-width="0.3" textLength="19.5" lengthAdjust="spacingAndGlyphs">SALL1</text>
<text x="454.5" y="24.9" font-size="6.3" font-weight="bold" fill="#1e1e1e" stroke="#1e1e1e" stroke-width="0.3" textLength="15.3" lengthAdjust="spacingAndGlyphs">SOX6</text>
<text x="470.6" y="26.5" font-size="6.3" font-weight="bold" fill="#1e1e1e" stroke="#1e1e1e" stroke-width="0.3" textLength="21.7" lengthAdjust="spacingAndGlyphs">LAMA1</text>
<text x="461.2" y="36.6" font-size="6.3" font-weight="bold" fill="#1e1e1e" stroke="#1e1e1e" stroke-width="0.3" textLength="25.3" lengthAdjust="spacingAndGlyphs">BCL11A</text>
<text x="439" y="45.7" font-size="6.3" font-weight="bold" fill="#1e1e1e" stroke="#1e1e1e" stroke-width="0.3" textLength="20.4" lengthAdjust="spacingAndGlyphs">PLCE1</text>
<text x="471.6" y="45.7" font-size="6.3" font-weight="bold" fill="#1e1e1e" stroke="#1e1e1e" stroke-width="0.3" textLength="17.5" lengthAdjust="spacingAndGlyphs">AASS</text>
<text x="406.4" y="58" font-size="6.3" font-weight="bold" fill="#1e1e1e" stroke="#1e1e1e" stroke-width="0.3" textLength="19.6" lengthAdjust="spacingAndGlyphs">ZFHX3</text>
<text x="457.3" y="58" font-size="6.3" font-weight="bold" fill="#1e1e1e" stroke="#1e1e1e" stroke-width="0.3" textLength="14.3" lengthAdjust="spacingAndGlyphs">NFIX</text>
<text x="378.2" y="66.5" font-size="6.3" font-weight="bold" fill="#1e1e1e" stroke="#1e1e1e" stroke-width="0.3" textLength="22.5" lengthAdjust="spacingAndGlyphs">TCF7L2</text>
<text x="422.8" y="66.6" font-size="6.3" font-weight="bold" fill="#1e1e1e" stroke="#1e1e1e" stroke-width="0.3" textLength="24.0" lengthAdjust="spacingAndGlyphs">JMJD1C</text>
<text x="343.7" y="77.2" font-size="6.3" font-weight="bold" fill="#1e1e1e" stroke="#1e1e1e" stroke-width="0.3" textLength="25.5" lengthAdjust="spacingAndGlyphs">SRGAP3</text>
<text x="374.6" y="77.2" font-size="6.3" font-weight="bold" fill="#1e1e1e" stroke="#1e1e1e" stroke-width="0.3" textLength="21.3" lengthAdjust="spacingAndGlyphs">NRXN3</text>
<text x="401.1" y="77" font-size="6.3" font-weight="bold" fill="#1e1e1e" stroke="#1e1e1e" stroke-width="0.3" textLength="27.5" lengthAdjust="spacingAndGlyphs">COL11A1</text>
<text x="435.1" y="77" font-size="6.3" font-weight="bold" fill="#1e1e1e" stroke="#1e1e1e" stroke-width="0.3" textLength="26.9" lengthAdjust="spacingAndGlyphs">PDGFRB</text>
<text x="476" y="76.2" font-size="6.3" font-weight="bold" fill="#1e1e1e" stroke="#1e1e1e" stroke-width="0.3" textLength="15.7" lengthAdjust="spacingAndGlyphs">TCF4</text>
<text x="342.1" y="87.2" font-size="6.3" font-weight="bold" fill="#1e1e1e" stroke="#1e1e1e" stroke-width="0.3" textLength="23.1" lengthAdjust="spacingAndGlyphs">ATP1A1</text>
<text x="374.6" y="87.2" font-size="6.3" font-weight="bold" fill="#1e1e1e" stroke="#1e1e1e" stroke-width="0.3" textLength="23.7" lengthAdjust="spacingAndGlyphs">ATP1A2</text>
<text x="415" y="87.5" font-size="6.3" font-weight="bold" fill="#1e1e1e" stroke="#1e1e1e" stroke-width="0.3" textLength="13.6" lengthAdjust="spacingAndGlyphs">GLI3</text>
<text x="434.3" y="87.5" font-size="6.3" font-weight="bold" fill="#1e1e1e" stroke="#1e1e1e" stroke-width="0.3" textLength="22.5" lengthAdjust="spacingAndGlyphs">GABPA</text>
<text x="463" y="87.5" font-size="6.3" font-weight="bold" fill="#1e1e1e" stroke="#1e1e1e" stroke-width="0.3" textLength="12.6" lengthAdjust="spacingAndGlyphs">STIL</text>
<text x="383.5" y="96.2" font-size="6.3" font-weight="bold" fill="#1e1e1e" stroke="#1e1e1e" stroke-width="0.3" textLength="20.9" lengthAdjust="spacingAndGlyphs">BRCA1</text>
<text x="443" y="96.4" font-size="6.3" font-weight="bold" fill="#1e1e1e" stroke="#1e1e1e" stroke-width="0.3" textLength="15.6" lengthAdjust="spacingAndGlyphs">TBR1</text>
<text x="467.7" y="97.9" font-size="6.3" font-weight="bold" fill="#1e1e1e" stroke="#1e1e1e" stroke-width="0.3" textLength="23.0" lengthAdjust="spacingAndGlyphs">ZBTB18</text>
<text x="343.7" y="98.7" font-size="6.3" font-weight="bold" fill="#1e1e1e" stroke="#1e1e1e" stroke-width="0.3" textLength="20.1" lengthAdjust="spacingAndGlyphs">FGFR2</text>
<text x="405.7" y="100.4" font-size="6.3" font-weight="bold" fill="#1e1e1e" stroke="#1e1e1e" stroke-width="0.3" textLength="23.0" lengthAdjust="spacingAndGlyphs">SLC6A1</text>
<text x="379.2" y="107.1" font-size="6.3" font-weight="bold" fill="#1e1e1e" stroke="#1e1e1e" stroke-width="0.3" textLength="20.1" lengthAdjust="spacingAndGlyphs">ZNRF3</text>
<text x="433.8" y="107.6" font-size="6.3" font-weight="bold" fill="#1e1e1e" stroke="#1e1e1e" stroke-width="0.3" textLength="34.4" lengthAdjust="spacingAndGlyphs">SOX2RORA</text>
<text x="349.1" y="114.3" font-size="6.3" font-weight="bold" fill="#1e1e1e" stroke="#1e1e1e" stroke-width="0.3" textLength="20.1" lengthAdjust="spacingAndGlyphs">TRPS1</text>
<text x="467.7" y="115.4" font-size="6.3" font-weight="bold" fill="#1e1e1e" stroke="#1e1e1e" stroke-width="0.3" textLength="24.8" lengthAdjust="spacingAndGlyphs">COL4A6</text>
<text x="390.6" y="116" font-size="6.3" font-weight="bold" fill="#1e1e1e" stroke="#1e1e1e" stroke-width="0.3" textLength="14.6" lengthAdjust="spacingAndGlyphs">GLI2</text>
<text x="408.3" y="116" font-size="6.3" font-weight="bold" fill="#1e1e1e" stroke="#1e1e1e" stroke-width="0.3" textLength="22.2" lengthAdjust="spacingAndGlyphs">NTNG1</text>
<text x="440.3" y="117.2" font-size="6.3" font-weight="bold" fill="#1e1e1e" stroke="#1e1e1e" stroke-width="0.3" textLength="18.3" lengthAdjust="spacingAndGlyphs">GATM</text>
<text x="344.1" y="126" font-size="6.3" font-weight="bold" fill="#1e1e1e" stroke="#1e1e1e" stroke-width="0.3" textLength="21.7" lengthAdjust="spacingAndGlyphs">ESCO2</text>
<text x="371.2" y="126" font-size="6.3" font-weight="bold" fill="#1e1e1e" stroke="#1e1e1e" stroke-width="0.3" textLength="15.1" lengthAdjust="spacingAndGlyphs">KLF7</text>
<text x="394" y="126.7" font-size="6.3" font-weight="bold" fill="#1e1e1e" stroke="#1e1e1e" stroke-width="0.3" textLength="15.6" lengthAdjust="spacingAndGlyphs">RFX4</text>
<text x="414.9" y="126.7" font-size="6.3" font-weight="bold" fill="#1e1e1e" stroke="#1e1e1e" stroke-width="0.3" textLength="24.8" lengthAdjust="spacingAndGlyphs">MEGF10</text>
<text x="445.5" y="127.2" font-size="6.3" font-weight="bold" fill="#1e1e1e" stroke="#1e1e1e" stroke-width="0.3" textLength="20.9" lengthAdjust="spacingAndGlyphs">SMAD3</text>
<text x="365.2" y="136.9" font-size="6.3" font-weight="bold" fill="#1e1e1e" stroke="#1e1e1e" stroke-width="0.3" textLength="20.9" lengthAdjust="spacingAndGlyphs">BACH1</text>
<text x="392.7" y="138" font-size="6.3" font-weight="bold" fill="#1e1e1e" stroke="#1e1e1e" stroke-width="0.3" textLength="24.8" lengthAdjust="spacingAndGlyphs">NOTCH2</text>
<text x="443.6" y="137.2" font-size="6.3" font-weight="bold" fill="#1e1e1e" stroke="#1e1e1e" stroke-width="0.3" textLength="15.9" lengthAdjust="spacingAndGlyphs">YAP1</text>
<text x="337.8" y="141.4" font-size="6.3" font-weight="bold" fill="#1e1e1e" stroke="#1e1e1e" stroke-width="0.3" textLength="22.2" lengthAdjust="spacingAndGlyphs">BUB1B</text>
<text x="422.7" y="143.9" font-size="6.3" font-weight="bold" fill="#1e1e1e" stroke="#1e1e1e" stroke-width="0.3" textLength="15.7" lengthAdjust="spacingAndGlyphs">LHX2</text>
<text x="371.8" y="147.4" font-size="6.3" font-weight="bold" fill="#1e1e1e" stroke="#1e1e1e" stroke-width="0.3" textLength="20.3" lengthAdjust="spacingAndGlyphs">SYNE2</text>
<text x="444.9" y="147.4" font-size="6.3" font-weight="bold" fill="#1e1e1e" stroke="#1e1e1e" stroke-width="0.3" textLength="17.1" lengthAdjust="spacingAndGlyphs">EMX2</text>
<text x="400.5" y="149.2" font-size="6.3" font-weight="bold" fill="#1e1e1e" stroke="#1e1e1e" stroke-width="0.3" textLength="17.0" lengthAdjust="spacingAndGlyphs">THRA</text>
<text x="423.5" y="155.7" font-size="6.3" font-weight="bold" fill="#1e1e1e" stroke="#1e1e1e" stroke-width="0.3" textLength="16.2" lengthAdjust="spacingAndGlyphs">FBN2</text>
<text x="344.9" y="158.4" font-size="6.3" font-weight="bold" fill="#1e1e1e" stroke="#1e1e1e" stroke-width="0.3" textLength="17.8" lengthAdjust="spacingAndGlyphs">KIF4A</text>
<text x="388.8" y="157.7" font-size="6.3" font-weight="bold" fill="#1e1e1e" stroke="#1e1e1e" stroke-width="0.3" textLength="28.2" lengthAdjust="spacingAndGlyphs">FAM111B</text>
<text x="368.4" y="164.4" font-size="6.3" font-weight="bold" fill="#1e1e1e" stroke="#1e1e1e" stroke-width="0.3" textLength="14.6" lengthAdjust="spacingAndGlyphs">NFIA</text>
<text x="413" y="168" font-size="6.3" font-weight="bold" fill="#1e1e1e" stroke="#1e1e1e" stroke-width="0.3" textLength="16.2" lengthAdjust="spacingAndGlyphs">SOX9</text>
<text x="435" y="168" font-size="6.3" font-weight="bold" fill="#1e1e1e" stroke="#1e1e1e" stroke-width="0.3" textLength="15.6" lengthAdjust="spacingAndGlyphs">PAX6</text>
<text x="347" y="177.4" font-size="6.3" font-weight="bold" fill="#1e1e1e" stroke="#1e1e1e" stroke-width="0.3" textLength="21.4" lengthAdjust="spacingAndGlyphs">RBBP8</text>
<text x="373.6" y="177.4" font-size="6.3" font-weight="bold" fill="#1e1e1e" stroke="#1e1e1e" stroke-width="0.3" textLength="21.7" lengthAdjust="spacingAndGlyphs">KCNH5</text>
<text x="377.8" y="191.3" font-size="6.3" font-weight="bold" fill="#1e1e1e" stroke="#1e1e1e" stroke-width="0.3" textLength="24.0" lengthAdjust="spacingAndGlyphs">HS6ST2</text>
<text x="355.4" y="193" font-size="6.3" font-weight="bold" fill="#1e1e1e" stroke="#1e1e1e" stroke-width="0.3" textLength="16.4" lengthAdjust="spacingAndGlyphs">CRB1</text>
<text x="407" y="199.1" font-size="6.3" font-weight="bold" fill="#1e1e1e" stroke="#1e1e1e" stroke-width="0.3" textLength="16.2" lengthAdjust="spacingAndGlyphs">BUB1</text>
<text x="350.1" y="203.5" font-size="6.3" font-weight="bold" fill="#1e1e1e" stroke="#1e1e1e" stroke-width="0.3" textLength="20.4" lengthAdjust="spacingAndGlyphs">MEF2C</text>
<text x="387.5" y="207" font-size="6.3" font-weight="bold" fill="#1e1e1e" stroke="#1e1e1e" stroke-width="0.3" textLength="13.8" lengthAdjust="spacingAndGlyphs">BLM</text>
<text x="362.1" y="213.4" font-size="6.3" font-weight="bold" fill="#1e1e1e" stroke="#1e1e1e" stroke-width="0.3" textLength="17.5" lengthAdjust="spacingAndGlyphs">MPDZ</text>
<text x="409.3" y="214.8" font-size="6.3" font-weight="bold" fill="#1e1e1e" stroke="#1e1e1e" stroke-width="0.3" textLength="24.1" lengthAdjust="spacingAndGlyphs">ZBTB20</text>
<text x="380.4" y="223.1" font-size="6.3" font-weight="bold" fill="#1e1e1e" stroke="#1e1e1e" stroke-width="0.3" textLength="20.1" lengthAdjust="spacingAndGlyphs">ATCAY</text>
<text x="406.5" y="224.7" font-size="6.3" font-weight="bold" fill="#1e1e1e" stroke="#1e1e1e" stroke-width="0.3" textLength="15.7" lengthAdjust="spacingAndGlyphs">KNL1</text>
<rect x="318.4" y="272.8" width="6" height="6" fill="#f4c3b3" stroke="none" stroke-width="0.5"/>
<text x="315.7" y="270.9" font-size="6.3" font-weight="bold" fill="#1e1e1e" stroke="#1e1e1e" stroke-width="0.3" textLength="18.3" lengthAdjust="spacingAndGlyphs">MEIS2</text>
<line x1="248" y1="401.5" x2="227" y2="365" stroke="#999" stroke-width="1.1" opacity="0.85"/>
<line x1="248" y1="401.5" x2="235.5" y2="367" stroke="#999" stroke-width="1.1" opacity="0.85"/>
<line x1="248" y1="401.5" x2="248.5" y2="367" stroke="#999" stroke-width="1.1" opacity="0.85"/>
<line x1="248" y1="401.5" x2="216.5" y2="377.5" stroke="#999" stroke-width="1.1" opacity="0.85"/>
<line x1="248" y1="401.5" x2="223.7" y2="385.5" stroke="#999" stroke-width="1.1" opacity="0.85"/>
<line x1="248" y1="401.5" x2="266" y2="401" stroke="#999" stroke-width="1.1" opacity="0.85"/>
<line x1="248" y1="401.5" x2="229" y2="408" stroke="#999" stroke-width="1.1" opacity="0.85"/>
<line x1="248" y1="401.5" x2="239" y2="412" stroke="#999" stroke-width="1.1" opacity="0.85"/>
<line x1="248" y1="401.5" x2="218.4" y2="413.3" stroke="#999" stroke-width="1.1" opacity="0.85"/>
<line x1="248" y1="401.5" x2="269.4" y2="425.7" stroke="#999" stroke-width="1.1" opacity="0.85"/>
<line x1="248" y1="401.5" x2="236" y2="424" stroke="#999" stroke-width="1.1" opacity="0.85"/>
<line x1="248" y1="401.5" x2="226" y2="433" stroke="#999" stroke-width="1.1" opacity="0.85"/>
<line x1="248" y1="401.5" x2="242" y2="434" stroke="#999" stroke-width="1.1" opacity="0.85"/>
<line x1="248" y1="401.5" x2="255" y2="441" stroke="#999" stroke-width="1.1" opacity="0.85"/>
<line x1="248" y1="401.5" x2="227.6" y2="448" stroke="#999" stroke-width="1.1" opacity="0.85"/>
<line x1="248" y1="401.5" x2="265.5" y2="445.3" stroke="#999" stroke-width="1.1" opacity="0.85"/>
<line x1="248" y1="401.5" x2="236" y2="450.6" stroke="#999" stroke-width="1.1" opacity="0.85"/>
<line x1="248" y1="401.5" x2="257.7" y2="461" stroke="#999" stroke-width="1.1" opacity="0.85"/>
<line x1="248" y1="401.5" x2="229" y2="457" stroke="#999" stroke-width="1.1" opacity="0.85"/>
<line x1="248" y1="401.5" x2="248.5" y2="463.6" stroke="#999" stroke-width="1.1" opacity="0.85"/>
<line x1="248" y1="401.5" x2="238" y2="468.5" stroke="#999" stroke-width="1.1" opacity="0.85"/>
<rect x="224.25" y="362.25" width="5.5" height="5.5" fill="#f7ddd6" stroke="#ddd" stroke-width="0.4"/>
<circle cx="235.5" cy="367" r="3.3" fill="#f3c9bd" stroke="#ddd" stroke-width="0.4"/>
<rect x="245.75" y="364.25" width="5.5" height="5.5" fill="#f7ddd6" stroke="#ddd" stroke-width="0.4"/>
<circle cx="216.5" cy="377.5" r="3.3" fill="#f3c9bd" stroke="#ddd" stroke-width="0.4"/>
<rect x="220.95" y="382.75" width="5.5" height="5.5" fill="#cfc6f0" stroke="#ddd" stroke-width="0.4"/>
<circle cx="266" cy="401" r="3.3" fill="#f5f5f5" stroke="#ddd" stroke-width="0.4"/>
<circle cx="229" cy="408" r="3.3" fill="#f7ddd6" stroke="#ddd" stroke-width="0.4"/>
<rect x="236.25" y="409.25" width="5.5" height="5.5" fill="#f7ddd6" stroke="#ddd" stroke-width="0.4"/>
<circle cx="218.4" cy="413.3" r="3.3" fill="#f3c9bd" stroke="#ddd" stroke-width="0.4"/>
<circle cx="269.4" cy="425.7" r="3.3" fill="#fafafa" stroke="#ddd" stroke-width="0.4"/>
<circle cx="236" cy="424" r="3.3" fill="#f7ddd6" stroke="#ddd" stroke-width="0.4"/>
<rect x="223.25" y="430.25" width="5.5" height="5.5" fill="#fafafa" stroke="#ddd" stroke-width="0.4"/>
<rect x="239.25" y="431.25" width="5.5" height="5.5" fill="#f7ddd6" stroke="#ddd" stroke-width="0.4"/>
<circle cx="255" cy="441" r="3.3" fill="#fafafa" stroke="#ddd" stroke-width="0.4"/>
<circle cx="227.6" cy="448" r="3.3" fill="#fafafa" stroke="#ddd" stroke-width="0.4"/>
<rect x="262.75" y="442.55" width="5.5" height="5.5" fill="#f7ddd6" stroke="#ddd" stroke-width="0.4"/>
<polygon points="236,446.6 240,453.8 232,453.8" fill="#e9957d" stroke="none" stroke-width="0.5"/>
<circle cx="257.7" cy="461" r="3.3" fill="#fafafa" stroke="#ddd" stroke-width="0.4"/>
<circle cx="229" cy="457" r="3.3" fill="#fafafa" stroke="#ddd" stroke-width="0.4"/>
<circle cx="248.5" cy="463.6" r="3.3" fill="#fafafa" stroke="#ddd" stroke-width="0.4"/>
<polygon points="238,464.5 242,471.7 234,471.7" fill="#e9957d" stroke="none" stroke-width="0.5"/>
<polygon points="248,397.5 252,401.5 248,405.5 244,401.5" fill="#e01e1e" stroke="none" stroke-width="0.5"/>
<text x="214.8" y="360.6" font-size="6.3" font-weight="bold" fill="#1e1e1e" stroke="#1e1e1e" stroke-width="0.3" textLength="17.0" lengthAdjust="spacingAndGlyphs">CUX2</text>
<text x="244.8" y="364" font-size="6.3" font-weight="bold" fill="#1e1e1e" stroke="#1e1e1e" stroke-width="0.3" textLength="15.2" lengthAdjust="spacingAndGlyphs">NFIB</text>
<text x="236.5" y="376.2" font-size="6.3" font-weight="bold" fill="#1e1e1e" stroke="#1e1e1e" stroke-width="0.3" textLength="21.9" lengthAdjust="spacingAndGlyphs">KCNQ3</text>
<text x="201" y="386.2" font-size="6.3" font-weight="bold" fill="#1e1e1e" stroke="#1e1e1e" stroke-width="0.3" textLength="29.5" lengthAdjust="spacingAndGlyphs">CCDC88C</text>
<text x="210.9" y="397.1" font-size="6.3" font-weight="bold" fill="#1e1e1e" stroke="#1e1e1e" stroke-width="0.3" textLength="20.4" lengthAdjust="spacingAndGlyphs">FOXP1</text>
<text x="237" y="399.2" font-size="6.3" font-weight="bold" fill="#1e1e1e" stroke="#1e1e1e" stroke-width="0.3" textLength="24.8" lengthAdjust="spacingAndGlyphs">PKNOX1</text>
<text x="267" y="397" font-size="6.3" font-weight="bold" fill="#1e1e1e" stroke="#1e1e1e" stroke-width="0.3" textLength="16.5" lengthAdjust="spacingAndGlyphs">MYT1</text>
<text x="201" y="408.4" font-size="6.3" font-weight="bold" fill="#1e1e1e" stroke="#1e1e1e" stroke-width="0.3" textLength="17.2" lengthAdjust="spacingAndGlyphs">THRB</text>
<text x="233" y="409.7" font-size="6.3" font-weight="bold" fill="#1e1e1e" stroke="#1e1e1e" stroke-width="0.3" textLength="19.1" lengthAdjust="spacingAndGlyphs">TCF12</text>
<text x="201" y="422.2" font-size="6.3" font-weight="bold" fill="#1e1e1e" stroke="#1e1e1e" stroke-width="0.3" textLength="25.0" lengthAdjust="spacingAndGlyphs">ANTXR1</text>
<text x="263.6" y="422.5" font-size="6.3" font-weight="bold" fill="#1e1e1e" stroke="#1e1e1e" stroke-width="0.3" textLength="16.4" lengthAdjust="spacingAndGlyphs">KIF11</text>
<text x="231.1" y="431.2" font-size="6.3" font-weight="bold" fill="#1e1e1e" stroke="#1e1e1e" stroke-width="0.3" textLength="24.7" lengthAdjust="spacingAndGlyphs">PLXNA2</text>
<text x="201" y="435.4" font-size="6.3" font-weight="bold" fill="#1e1e1e" stroke="#1e1e1e" stroke-width="0.3" textLength="16.4" lengthAdjust="spacingAndGlyphs">PBX1</text>
<text x="222.7" y="442.6" font-size="6.3" font-weight="bold" fill="#1e1e1e" stroke="#1e1e1e" stroke-width="0.3" textLength="24.2" lengthAdjust="spacingAndGlyphs">POU3F2</text>
<text x="257.9" y="441.1" font-size="6.3" font-weight="bold" fill="#1e1e1e" stroke="#1e1e1e" stroke-width="0.3" textLength="24.8" lengthAdjust="spacingAndGlyphs">DNAAF4</text>
<text x="203.7" y="453.1" font-size="6.3" font-weight="bold" fill="#1e1e1e" stroke="#1e1e1e" stroke-width="0.3" textLength="22.1" lengthAdjust="spacingAndGlyphs">NALCN</text>
<text x="269.7" y="450.6" font-size="6.3" font-weight="bold" fill="#1e1e1e" stroke="#1e1e1e" stroke-width="0.3" textLength="24.0" lengthAdjust="spacingAndGlyphs">POU3F3</text>
<text x="234.3" y="459" font-size="6.3" font-weight="bold" fill="#1e1e1e" stroke="#1e1e1e" stroke-width="0.3" textLength="17.2" lengthAdjust="spacingAndGlyphs">ITSN1</text>
<text x="261.2" y="460.7" font-size="6.3" font-weight="bold" fill="#1e1e1e" stroke="#1e1e1e" stroke-width="0.3" textLength="18.4" lengthAdjust="spacingAndGlyphs">GLIS3</text>
<text x="212.1" y="466.4" font-size="6.3" font-weight="bold" fill="#1e1e1e" stroke="#1e1e1e" stroke-width="0.3" textLength="16.3" lengthAdjust="spacingAndGlyphs">SOX4</text>
<text x="248" y="473.3" font-size="6.3" font-weight="bold" fill="#1e1e1e" stroke="#1e1e1e" stroke-width="0.3" textLength="24.2" lengthAdjust="spacingAndGlyphs">ZBTB16</text>
<text x="224.8" y="476.9" font-size="6.3" font-weight="bold" fill="#1e1e1e" stroke="#1e1e1e" stroke-width="0.3" textLength="17.9" lengthAdjust="spacingAndGlyphs">TIAM1</text>
<rect x="196.5" y="55.3" width="71.2" height="108.6" fill="none" stroke="#2b2b3b" stroke-width="1" rx="0"/>
<rect x="196.5" y="167.6" width="48.2" height="117.9" fill="none" stroke="#2b2b3b" stroke-width="1" rx="0"/>
<rect x="249.5" y="167.6" width="53.3" height="117.9" fill="none" stroke="#2b2b3b" stroke-width="1" rx="0"/>
<rect x="197.3" y="289.3" width="61.1" height="59" fill="none" stroke="#2b2b3b" stroke-width="1" rx="0"/>
<defs><linearGradient id="g1" x1="0" y1="0" x2="0" y2="1"><stop offset="0" stop-color="#ea2a1e"/><stop offset="0.12" stop-color="#ee5a40"/><stop offset="0.25" stop-color="#f4a38c"/><stop offset="0.5" stop-color="#ffffff"/><stop offset="0.75" stop-color="#ad9ef0"/><stop offset="1" stop-color="#2318e6"/></linearGradient></defs>
<rect x="199.9" y="90.1" width="14" height="68.7" fill="url(#g1)" stroke="none" stroke-width="1" rx="0"/>
<line x1="199.9" y1="107.3" x2="213.9" y2="107.3" stroke="#fff" stroke-width="0.6" opacity="0.6"/>
<line x1="199.9" y1="124.5" x2="213.9" y2="124.5" stroke="#fff" stroke-width="0.6" opacity="0.6"/>
<line x1="199.9" y1="141.6" x2="213.9" y2="141.6" stroke="#fff" stroke-width="0.6" opacity="0.6"/>
<text x="199.4" y="66.4" font-size="8.2" font-weight="bold" fill="#111" stroke="#111" stroke-width="0.15" textLength="64.3" lengthAdjust="spacingAndGlyphs">Expr. DS vs CON</text>
<text x="199.4" y="75.6" font-size="7.9" font-weight="normal" fill="#444" textLength="50.6" lengthAdjust="spacingAndGlyphs">(mean Z-score</text>
<text x="199.4" y="85.1" font-size="7.9" font-weight="normal" fill="#444" textLength="37.6" lengthAdjust="spacingAndGlyphs">DS - CON)</text>
<text x="218.2" y="95.3" font-size="6.4" font-weight="bold" fill="#222" textLength="9.7" lengthAdjust="spacingAndGlyphs">1.0</text>
<text x="218.2" y="110.7" font-size="6.4" font-weight="bold" fill="#222" textLength="9.7" lengthAdjust="spacingAndGlyphs">0.5</text>
<text x="218.2" y="126.8" font-size="6.4" font-weight="bold" fill="#222" textLength="9.7" lengthAdjust="spacingAndGlyphs">0.0</text>
<text x="218.2" y="142.9" font-size="6.4" font-weight="bold" fill="#222" textLength="13.6" lengthAdjust="spacingAndGlyphs">−0.5</text>
<text x="218.2" y="158.3" font-size="6.4" font-weight="bold" fill="#222" textLength="13.6" lengthAdjust="spacingAndGlyphs">−1.0</text>
<text x="199.2" y="177.8" font-size="8.2" font-weight="bold" fill="#111" stroke="#111" stroke-width="0.15" textLength="19.5" lengthAdjust="spacingAndGlyphs">Expr.</text>
<text x="199.2" y="186.7" font-size="8.2" font-weight="bold" fill="#111" stroke="#111" stroke-width="0.15" textLength="17.4" lengthAdjust="spacingAndGlyphs">CON</text>
<text x="199.2" y="197.6" font-size="7.7" font-weight="normal" fill="#444" textLength="36.4" lengthAdjust="spacingAndGlyphs">(vst-norm)</text>
<text x="219" y="211.5" font-size="6.6" font-weight="bold" fill="#8c8c8c" textLength="10.0" lengthAdjust="spacingAndGlyphs">0.0</text>
<circle cx="207" cy="223" r="1.8" fill="#111" stroke="none" stroke-width="0.5"/>
<text x="219" y="225.4" font-size="6.6" font-weight="bold" fill="#8c8c8c" textLength="10.0" lengthAdjust="spacingAndGlyphs">2.5</text>
<circle cx="207" cy="237" r="2.5" fill="#111" stroke="none" stroke-width="0.5"/>
<text x="219" y="239.4" font-size="6.6" font-weight="bold" fill="#8c8c8c" textLength="10.0" lengthAdjust="spacingAndGlyphs">5.0</text>
<circle cx="207" cy="251.4" r="3.1" fill="#111" stroke="none" stroke-width="0.5"/>
<text x="219" y="253.8" font-size="6.6" font-weight="bold" fill="#8c8c8c" textLength="10.0" lengthAdjust="spacingAndGlyphs">7.5</text>
<circle cx="207" cy="265.3" r="3.8" fill="#111" stroke="none" stroke-width="0.5"/>
<text x="219" y="267.7" font-size="6.6" font-weight="bold" fill="#8c8c8c" textLength="14.0" lengthAdjust="spacingAndGlyphs">10.0</text>
<text x="250.6" y="175.9" font-size="8.2" font-weight="bold" fill="#111" stroke="#111" stroke-width="0.15" textLength="41.4" lengthAdjust="spacingAndGlyphs">Regulation</text>
<text x="250.6" y="185.3" font-size="7.7" font-weight="normal" fill="#444" textLength="43.4" lengthAdjust="spacingAndGlyphs">(correlation)</text>
<line x1="252.5" y1="196.6" x2="262" y2="196.6" stroke="#777" stroke-width="0.9" opacity="1"/>
<polygon points="264,196.6 260,194.79999999999998 260,198.4" fill="#777"/>
<text x="264.4" y="199.1" font-size="7.6" font-weight="normal" fill="#444" textLength="26.9" lengthAdjust="spacingAndGlyphs">positive</text>
<line x1="252.5" y1="207.6" x2="262" y2="207.6" stroke="#777" stroke-width="0.9" opacity="1"/>
<polygon points="264,207.6 260,205.79999999999998 260,209.4" fill="#777"/>
<text x="264.4" y="210.1" font-size="7.6" font-weight="normal" fill="#444" textLength="30.0" lengthAdjust="spacingAndGlyphs">negative</text>
<line x1="257.4" y1="218.3" x2="265" y2="218.3" stroke="#555" stroke-width="0.6" opacity="1"/>
<text x="268.3" y="220.60000000000002" font-size="6.3" font-weight="normal" fill="#333" textLength="13.7" lengthAdjust="spacingAndGlyphs">0.00</text>
<line x1="257.4" y1="232.6" x2="265" y2="232.6" stroke="#555" stroke-width="0.9" opacity="1"/>
<text x="268.3" y="234.9" font-size="6.3" font-weight="normal" fill="#333" textLength="13.7" lengthAdjust="spacingAndGlyphs">0.25</text>
<line x1="257.4" y1="247" x2="265" y2="247" stroke="#555" stroke-width="1.2" opacity="1"/>
<text x="268.3" y="249.3" font-size="6.3" font-weight="normal" fill="#333" textLength="13.7" lengthAdjust="spacingAndGlyphs">0.50</text>
<line x1="257.4" y1="261.4" x2="265" y2="261.4" stroke="#555" stroke-width="1.6" opacity="1"/>
<text x="268.3" y="263.7" font-size="6.3" font-weight="normal" fill="#333" textLength="13.7" lengthAdjust="spacingAndGlyphs">0.75</text>
<line x1="257.4" y1="275.7" x2="265" y2="275.7" stroke="#555" stroke-width="2.2" opacity="1"/>
<text x="268.3" y="278.0" font-size="6.3" font-weight="normal" fill="#333" textLength="13.7" lengthAdjust="spacingAndGlyphs">1.00</text>
<text x="200" y="301.3" font-size="8.2" font-weight="bold" fill="#111" stroke="#111" stroke-width="0.15" textLength="42.0" lengthAdjust="spacingAndGlyphs">Gene class</text>
<polygon points="205.7,305.6 208.7,311.0 202.7,311.0" fill="#666" stroke="#333" stroke-width="0.5"/>
<text x="211.4" y="311.6" font-size="7.7" font-weight="normal" fill="#333" textLength="43.6" lengthAdjust="spacingAndGlyphs">Chr21_gene</text>
<rect x="203.7" y="318.2" width="4" height="4" fill="#777" stroke="#333" stroke-width="0.5"/>
<text x="211.4" y="322.9" font-size="7.7" font-weight="normal" fill="#333" textLength="8.6" lengthAdjust="spacingAndGlyphs">TF</text>
<polygon points="205.7,328.6 208.89999999999998,331.8 205.7,335.0 202.5,331.8" fill="#777" stroke="#333" stroke-width="0.5"/>
<text x="211.4" y="334.5" font-size="7.7" font-weight="normal" fill="#333" textLength="33.6" lengthAdjust="spacingAndGlyphs">TF_Chr21</text>
<ellipse cx="205.7" cy="343.4" rx="3" ry="2.4" fill="#777" stroke="#333" stroke-width="0.5"/>
<text x="211.4" y="346.1" font-size="7.7" font-weight="normal" fill="#333" textLength="19.6" lengthAdjust="spacingAndGlyphs">other</text>
</svg></body></html>
